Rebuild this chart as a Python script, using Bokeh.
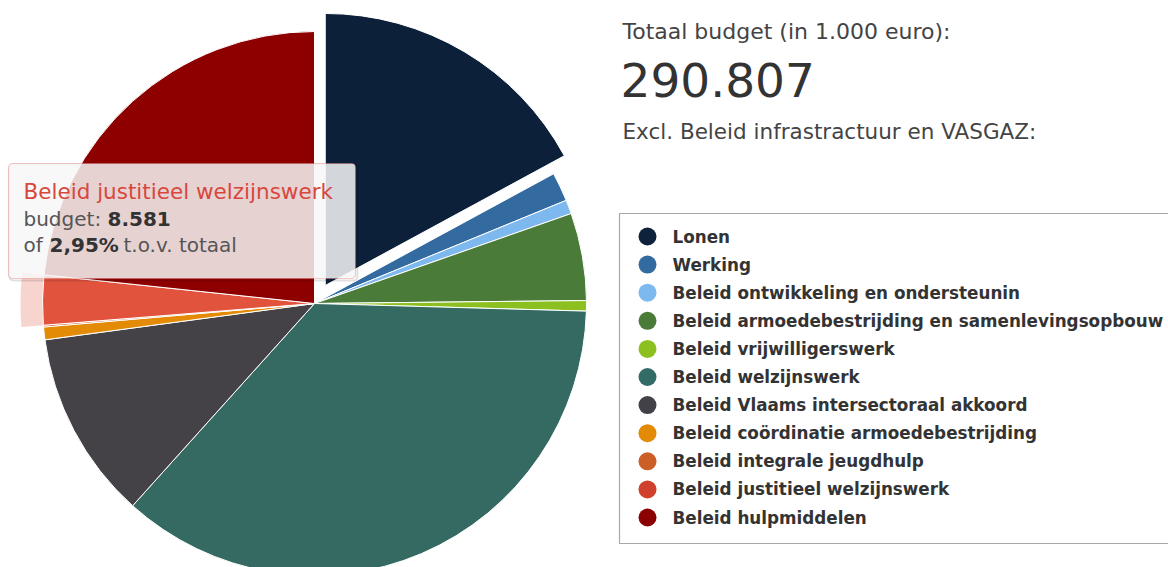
import math
import numpy as np
from bokeh.plotting import figure
from bokeh.models import Range1d, BoxAnnotation, Label, ColumnDataSource
from bokeh.core.properties import value
from bokeh.embed import file_html
from bokeh.resources import INLINE

# ---------------- data ----------------
categories = [
    "Lonen",
    "Werking",
    "Beleid ontwikkeling en ondersteunin",
    "Beleid armoedebestrijding en samenlevingsopbouw",
    "Beleid vrijwilligerswerk",
    "Beleid welzijnswerk",
    "Beleid Vlaams intersectoraal akkoord",
    "Beleid coördinatie armoedebestrijding",
    "Beleid integrale jeugdhulp",
    "Beleid justitieel welzijnswerk",
    "Beleid hulpmiddelen",
]
budget = [49700, 5000, 2400, 15100, 1800, 105300, 32600, 2200, 300, 8581, 67826]
legend_colors = ["#0f223c", "#336aa0", "#7db8ee", "#4a7b38", "#8cc021", "#336b66",
                 "#424148", "#e38a06", "#cc5e27", "#d0402c", "#8b0000"]
slice_colors = ["#0c2039", "#336aa0", "#7db8ee", "#4a7b38", "#8cc021", "#346a62",
                "#444247", "#e38a06", "#cc5e27", "#e2533e", "#8e0000"]
exploded = ["Lonen"]
hovered = "Beleid justitieel welzijnswerk"

title_text = "Totaal budget (in 1.000 euro):"
note_text = "Excl. Beleid infrastractuur en VASGAZ:"

# ---------------- helpers ----------------
W, H = 1168, 567


def sy(y):
    """screen y -> data y"""
    return H - y


def fmt_thousands(v):
    return f"{v:,}".replace(",", ".")


FONT = value("DejaVu Sans")

p = figure(width=W, height=H, output_backend="svg", toolbar_location=None,
           x_range=Range1d(0, W), y_range=Range1d(0, H),
           min_border=0, outline_line_color=None)
p.xaxis.visible = False
p.yaxis.visible = False
p.grid.visible = False
p.background_fill_color = "white"
p.border_fill_color = "white"

# ---------------- pie ----------------
cx, cy, R = 314, sy(303), 272
explode_dist = 21
vals = np.array(budget, dtype=float)
total = vals.sum()
cum = np.concatenate([[0], np.cumsum(vals)])
start = np.pi / 2 - 2 * np.pi * cum[:-1] / total
end = np.pi / 2 - 2 * np.pi * cum[1:] / total
mid = (start + end) / 2
xs, ys = [], []
for i, c in enumerate(categories):
    d = explode_dist if c in exploded else 0
    xs.append(cx + d * math.cos(mid[i]))
    ys.append(cy + d * math.sin(mid[i]))

src = ColumnDataSource(dict(x=xs, y=ys, start=start, end=end, color=slice_colors,
                            cat=categories, val=budget))

# hover halo for the highlighted slice
hi = categories.index(hovered)
p.annular_wedge(x=[xs[hi]], y=[ys[hi]], inner_radius=R, outer_radius=R + 22,
                start_angle=[start[hi]], end_angle=[end[hi]], direction="clock",
                fill_color=slice_colors[hi], fill_alpha=0.25, line_color=None)

p.wedge(x="x", y="y", radius=R, start_angle="start", end_angle="end",
        direction="clock", fill_color="color", line_color="white", line_width=1,
        source=src)

# ---------------- right-hand texts ----------------
p.text(x=[622], y=[sy(31)], text=[title_text], text_font=FONT, text_font_size="22px",
       text_color="#444444", text_baseline="middle", text_align="left")
p.text(x=[620], y=[sy(79)], text=[fmt_thousands(int(total))], text_font=FONT,
       text_font_size="47px", text_color="#333333", text_baseline="middle",
       text_align="left")
p.text(x=[622], y=[sy(131)], text=[note_text], text_font=FONT, text_font_size="21.5px",
       text_color="#444444", text_baseline="middle", text_align="left")

# ---------------- legend ----------------
p.quad(left=[619], right=[1220], top=[sy(213)], bottom=[sy(543)],
       fill_color="white", line_color="#a8a8a8", line_width=1.2)
n = len(categories)
ly = [sy(236 + 28.1 * i) for i in range(n)]
p.scatter(x=[647] * n, y=ly, size=18, marker="circle", fill_color=legend_colors,
          line_color=None)
p.text(x=[672] * n, y=ly, text=categories, text_font=FONT,
       text_font_size="16.8px", text_font_style="bold", text_color="#333333",
       text_baseline="middle", text_align="left")

# ---------------- tooltip ----------------
shadow = BoxAnnotation(left=9, right=357, top=sy(164), bottom=sy(280),
                       fill_color=None, line_color="black", line_alpha=0.12,
                       line_width=2, border_radius=4)
p.add_layout(shadow)
tip = BoxAnnotation(left=8, right=355, top=sy(163), bottom=sy(278),
                    fill_color="#f7f7f7", fill_alpha=0.85, line_color="#d9534f",
                    line_width=1.2, border_radius=4)
p.add_layout(tip)

pct = budget[hi] / total * 100
pct_text = f"{pct:.2f}".replace(".", ",") + "%"
tip_parts = [
    (23, 191, hovered, "21.5px", "normal", "#d8473c"),
    (23, 218, "budget:", "20px", "normal", "#555555"),
    (107, 218, fmt_thousands(budget[hi]), "20px", "bold", "#333333"),
    (23, 244, "of", "20px", "normal", "#555555"),
    (49, 244, pct_text, "20px", "bold", "#333333"),
    (123, 244, "t.o.v. totaal", "20px", "normal", "#555555"),
]
for x, y, t, fs, st, col in tip_parts:
    p.add_layout(Label(x=x, y=sy(y), text=t, text_font="DejaVu Sans",
                       text_font_size=fs, text_font_style=st, text_color=col,
                       text_baseline="middle", text_align="left"))

open("out.html", "w").write(file_html(p, INLINE))
